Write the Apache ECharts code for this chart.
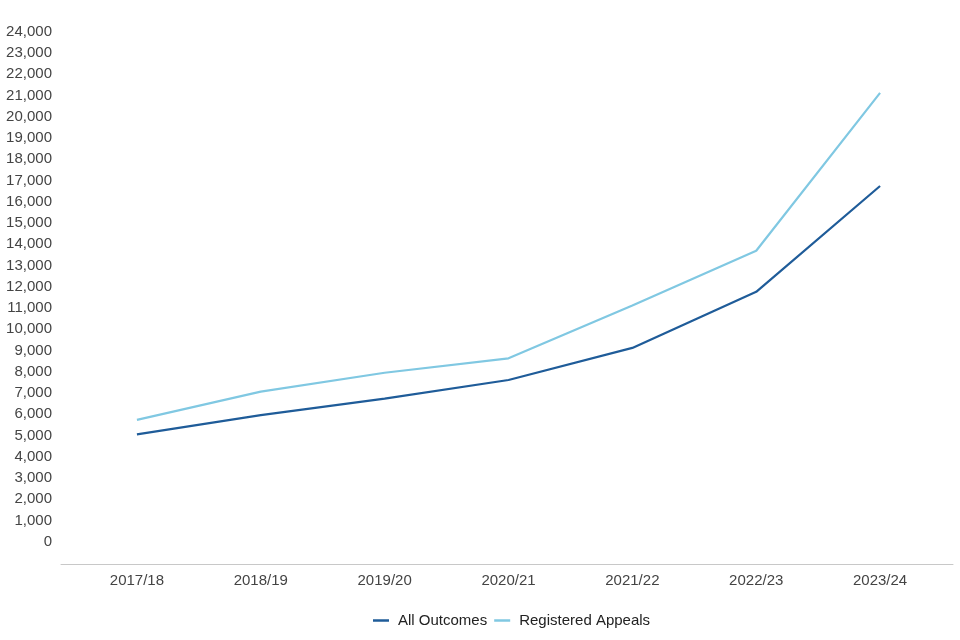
<!DOCTYPE html>
<html>
<head>
<meta charset="utf-8">
<script src="https://cdn.jsdelivr.net/npm/echarts@6/dist/echarts.min.js"></script>
<style>html,body{margin:0;padding:0;background:#fff}#c{width:960px;height:640px}</style>
</head>
<body>
<div id="c"></div>
<script>
const categories = ['2017/18','2018/19','2019/20','2020/21','2021/22','2022/23','2023/24'];
const allOutcomes = [5050, 5960, 6730, 7610, 9120, 11760, 16740];
const registeredAppeals = [5730, 7060, 7950, 8630, 11120, 13690, 21120];
const seriesNames = ['All Outcomes', 'Registered Appeals'];
const yMin = 0, yMax = 24000, yStep = 1000;

const chart = echarts.init(document.getElementById('c'), null, {renderer: 'canvas'});
const font = 'Liberation Sans, Arial, Helvetica, sans-serif';
chart.setOption({
  animation: false,
  backgroundColor: '#fff',
  textStyle: {fontFamily: font},
  legend: {
    bottom: 7, left: 368,
    data: seriesNames,
    icon: 'rect', itemWidth: 16, itemHeight: 2.5, itemGap: 7,
    textStyle: {fontSize: 15, color: '#222', fontFamily: font, padding: [0, 0, 0, 4]}
  },
  grid: [
    {left: 75, right: 18, top: 31.7, bottom: 98.3, containLabel: false},
    {left: 61, right: 7, top: 31.7, bottom: 98.3, containLabel: false}
  ],
  xAxis: [
    {
      type: 'category', gridIndex: 0, data: categories, boundaryGap: true, offset: 23,
      axisLine: {show: false, onZero: false}, axisTick: {show: false},
      axisLabel: {color: '#444', fontSize: 15, margin: 9, fontFamily: font}
    },
    {
      type: 'category', gridIndex: 1, data: categories, offset: 23,
      axisLine: {show: true, onZero: false, lineStyle: {color: '#c8c8c8', width: 1}},
      axisTick: {show: false}, axisLabel: {show: false}
    }
  ],
  yAxis: [
    {
      type: 'value', gridIndex: 0, min: yMin, max: yMax, interval: yStep,
      axisLine: {show: false}, axisTick: {show: false}, splitLine: {show: false},
      axisLabel: {
        color: '#444', fontSize: 15, margin: 23, fontFamily: font,
        formatter: v => v.toLocaleString('en-US')
      }
    },
    {type: 'value', gridIndex: 1, min: yMin, max: yMax, show: false}
  ],
  series: [
    {
      name: seriesNames[0], type: 'line', data: allOutcomes,
      xAxisIndex: 0, yAxisIndex: 0,
      symbol: 'none', color: '#1f5c99',
      lineStyle: {width: 2.2, color: '#1f5c99'}
    },
    {
      name: seriesNames[1], type: 'line', data: registeredAppeals,
      xAxisIndex: 0, yAxisIndex: 0,
      symbol: 'none', color: '#80c8e2',
      lineStyle: {width: 2.2, color: '#80c8e2'}
    }
  ]
});
</script>
</body>
</html>
